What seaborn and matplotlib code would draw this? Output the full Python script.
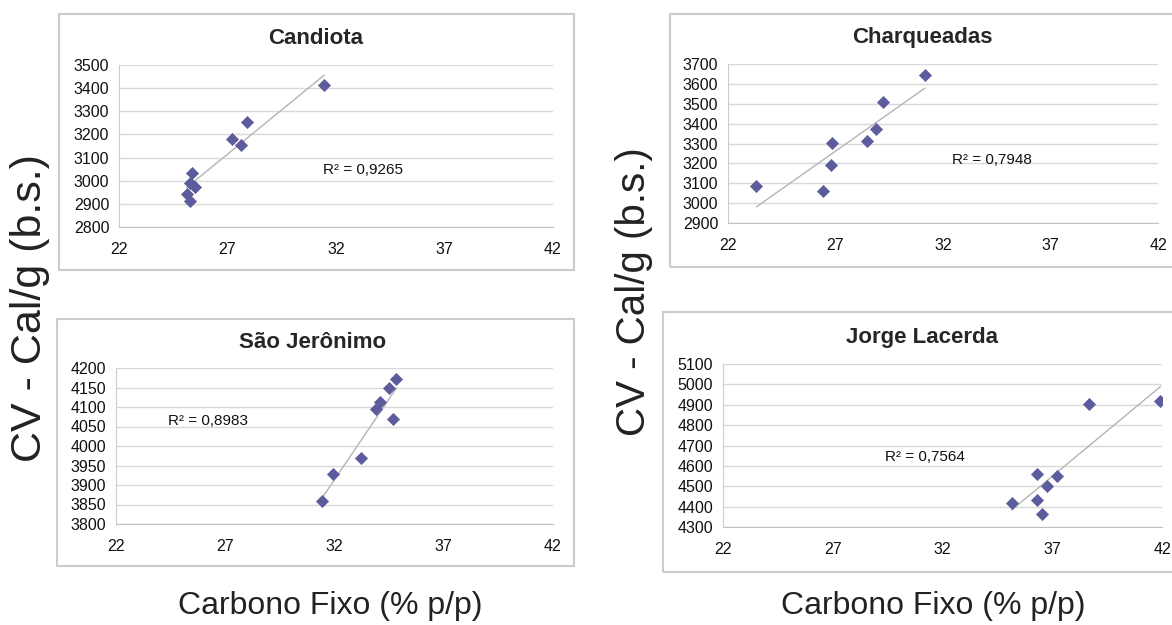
import numpy as np
import pandas as pd
import matplotlib
matplotlib.use('Agg')
import matplotlib.pyplot as plt
from matplotlib.patches import Rectangle
import seaborn as sns

sns.set_style('white')
plt.rcParams['font.family'] = ['Liberation Sans', 'DejaVu Sans']

W, H = 1172, 625

# dados (Carbono Fixo %, CV cal/g)
candiota_x = [31.46, 27.91, 27.22, 27.62, 25.35, 25.27, 25.50, 25.12, 25.27]
candiota_y = [3415, 3252, 3182, 3153, 3035, 2989, 2974, 2943, 2914]
charq_x = [23.32, 26.40, 26.78, 26.83, 28.46, 28.90, 29.20, 31.16]
charq_y = [3087, 3059, 3190, 3303, 3313, 3374, 3508, 3643]
saoj_x = [34.83, 34.50, 34.09, 33.92, 34.70, 33.19, 31.95, 31.43]
saoj_y = [4172, 4149, 4113, 4096, 4068, 3970, 3927, 3860]
jorge_x = [35.15, 36.31, 36.31, 36.54, 36.76, 37.20, 38.66, 41.93]
jorge_y = [4418, 4558, 4431, 4362, 4503, 4548, 4905, 4920]

titles = ['Candiota', 'Charqueadas', 'São Jerônimo', 'Jorge Lacerda']
r2_labels = ['R² = 0,9265', 'R² = 0,7948', 'R² = 0,8983', 'R² = 0,7564']
r2_pos = [(31.4, 3045), (32.4, 3215), (24.4, 4065), (29.4, 4646)]
y_ranges = [(2800, 3500, 100), (2900, 3700, 100), (3800, 4200, 50), (4300, 5100, 100)]
x_ticks = [22, 27, 32, 37, 42]

series = [(candiota_x, candiota_y), (charq_x, charq_y), (saoj_x, saoj_y), (jorge_x, jorge_y)]

# posições em pixels: área do gráfico (x0, y0, x1, y1), moldura, título
axes_px = [(119, 65, 553, 227), (728, 64, 1158, 223), (116, 368, 553, 524), (723, 364, 1162, 527)]
boxes_px = [(59, 14, 574, 270), (670, 14, 1190, 267), (57, 319, 574, 566), (663, 312, 1190, 572)]
title_px = [(316, 38), (922, 37), (313, 342), (922, 337)]

MARKER = '#5c5c9c'

fig = plt.figure(figsize=(W / 100, H / 100), dpi=100)

for i, (xs, ys) in enumerate(series):
    bx0, by0, bx1, by1 = boxes_px[i]
    fig.add_artist(Rectangle((bx0 / W, 1 - by1 / H), (bx1 - bx0) / W, (by1 - by0) / H,
                             transform=fig.transFigure, fill=False, ec='#cccccc', lw=1.5))
    x0, y0, x1, y1 = axes_px[i]
    ax = fig.add_axes([x0 / W, 1 - y1 / H, (x1 - x0) / W, (y1 - y0) / H])
    df = pd.DataFrame({'cf': xs, 'cv': ys})
    sns.regplot(data=df, x='cf', y='cv', ax=ax, scatter=False, ci=None, truncate=True,
                line_kws={'color': '#b4b4b4', 'lw': 1})
    sns.scatterplot(data=df, x='cf', y='cv', ax=ax, marker='D', s=38, color=MARKER,
                    edgecolor=MARKER, linewidth=0.5, zorder=3)
    lo, hi, step = y_ranges[i]
    ax.set_ylim(lo, hi)
    ax.set_yticks(np.arange(lo, hi + 1, step))
    ax.set_xlim(22, 42)
    ax.set_xticks(x_ticks)
    ax.set_xlabel('')
    ax.set_ylabel('')
    ax.grid(axis='y', color='#d9d9d9', lw=1)
    ax.set_axisbelow(True)
    for s in ['top', 'right']:
        ax.spines[s].set_visible(False)
    ax.spines['left'].set_color('#cccccc')
    ax.spines['bottom'].set_color('#c0c0c0')
    ax.tick_params(axis='y', length=0, labelsize=11.5, pad=7, labelcolor='#111111')
    ax.tick_params(axis='x', length=4, width=0.8, color='#c0c0c0', labelsize=11.5, pad=7,
                   labelcolor='#111111')
    ax.text(r2_pos[i][0], r2_pos[i][1], r2_labels[i], fontsize=11, va='center', ha='left',
            color='#111111')
    tx, ty = title_px[i]
    fig.text(tx / W, 1 - ty / H, titles[i], fontsize=16, fontweight='bold', ha='center',
             va='center')

fig.text(30 / W, 1 - 308 / H, 'CV - Cal/g (b.s.)', rotation=90, fontsize=31,
         ha='center', va='center', color='#222222')
fig.text(634 / W, 1 - 292 / H, 'CV - Cal/g (b.s.)', rotation=90, fontsize=29,
         ha='center', va='center', color='#222222')
fig.text(330 / W, 1 - 606 / H, 'Carbono Fixo (% p/p)', fontsize=23,
         ha='center', va='center', color='#222222')
fig.text(933 / W, 1 - 606 / H, 'Carbono Fixo (% p/p)', fontsize=23,
         ha='center', va='center', color='#222222')

fig.savefig('out.png', dpi=100, facecolor='white')
